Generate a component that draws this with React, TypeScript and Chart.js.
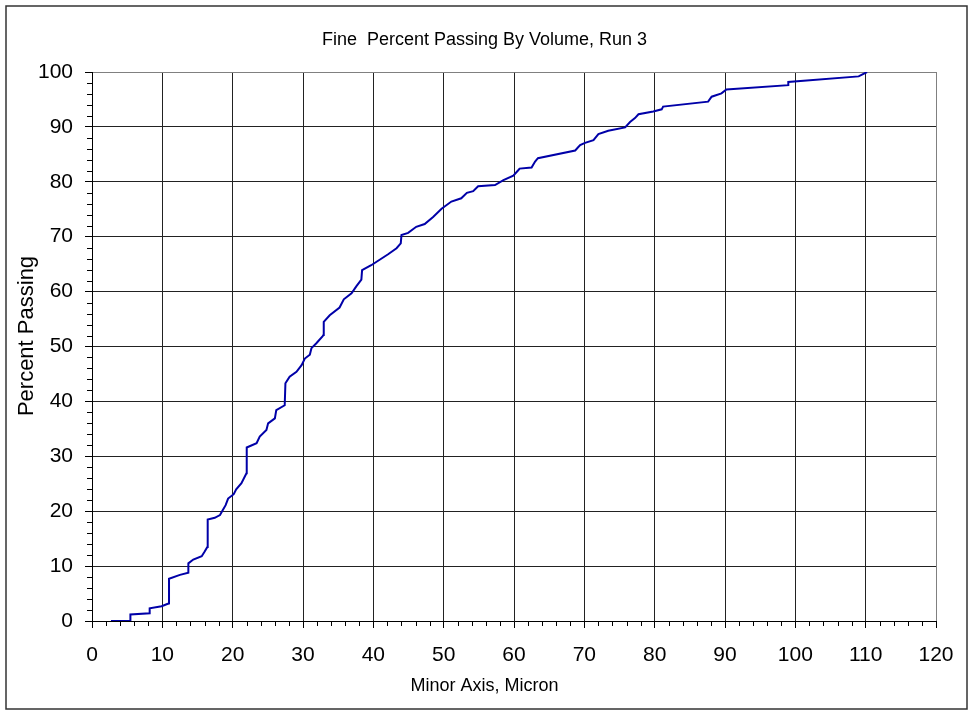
import React, { useEffect, useRef } from "react";
import { Chart, registerables } from "chart.js";

Chart.register(...registerables);

const chartTitle = "Fine  Percent Passing By Volume, Run 3";
const xAxisTitle = "Minor Axis, Micron";
const yAxisTitle = "Percent Passing";

const xTickMin = 0;
const xTickMax = 120;
const xTickStep = 10;
const yTickMin = 0;
const yTickMax = 100;
const yTickStep = 10;
const minorStep = 2;

const minorAxisMicron = [
  2.7, 5.46, 5.46, 8.2, 8.2, 9.9, 10.7, 10.95, 10.95, 12.5, 13.7, 13.7, 14.4, 15.6, 16.0, 16.4,
  16.45, 17.45, 18.2, 18.6, 19.0, 19.35, 20.15, 20.5, 21.25, 21.96, 22.0, 23.4, 23.85, 24.8,
  25.04, 26.0, 26.2, 27.4, 27.5, 28.1, 29.07, 29.8, 30.26, 30.97, 31.2, 31.9, 32.8, 32.9, 32.95,
  33.8, 35.2, 35.8, 36.9, 37.6, 38.3, 38.4, 39.7, 40.9, 42.1, 43.3, 43.9, 44.0, 44.95, 46.1,
  47.3, 48.5, 49.7, 51.1, 52.5, 53.3, 54.2, 54.9, 57.3, 58.5, 59.9, 60.6, 60.8, 62.5, 63.0,
  63.4, 68.7, 69.4, 70.1, 71.3, 72.0, 73.4, 75.8, 76.5, 77.2, 77.7, 79.8, 81.0, 81.2, 87.6,
  88.1, 89.5, 90.2, 99.0, 99.0, 109.0, 110.2,
];

const percentPassing = [
  0, 0, 1.2, 1.4, 2.3, 2.7, 3.1, 3.2, 7.7, 8.4, 8.8, 10.5, 11.2, 11.8, 12.6, 13.5,
  18.5, 18.8, 19.3, 20.2, 21.1, 22.3, 23.1, 24.0, 25.1, 26.9, 31.6, 32.4, 33.6, 34.8,
  36.0, 36.9, 38.4, 39.3, 43.3, 44.5, 45.4, 46.6, 47.8, 48.5, 49.7, 50.6, 51.9, 52.1, 54.5,
  55.7, 57.1, 58.6, 59.7, 61.0, 62.2, 63.9, 64.8, 65.8, 66.8, 67.9, 68.8, 70.3, 70.7, 71.8,
  72.3, 73.6, 75.1, 76.4, 77.0, 78.0, 78.3, 79.2, 79.4, 80.3, 81.1, 82.1, 82.4, 82.6, 83.7,
  84.3, 85.7, 86.7, 87.1, 87.6, 88.7, 89.3, 89.9, 90.9, 91.6, 92.3, 92.8, 93.2, 93.7, 94.6,
  95.5, 96.1, 96.8, 97.6, 98.2, 99.2, 100,
];

const FONT = "'Liberation Sans', Arial, sans-serif";

const frameAndMinorTicks = {
  id: "frameAndMinorTicks",
  afterDraw(chart: any) {
    const { ctx, chartArea, scales } = chart;
    ctx.save();
    // outer frame
    ctx.strokeStyle = "#333333";
    ctx.lineWidth = 1.5;
    ctx.strokeRect(6, 6, 961, 703);
    // minor ticks
    ctx.strokeStyle = "#000000";
    ctx.lineWidth = 1;
    ctx.beginPath();
    for (let v = yTickMin; v <= yTickMax; v += minorStep) {
      if (v % yTickStep === 0) continue;
      const y = Math.round(scales.y.getPixelForValue(v)) + 0.5;
      ctx.moveTo(chartArea.left - 5, y);
      ctx.lineTo(chartArea.left, y);
    }
    for (let v = xTickMin; v <= xTickMax; v += minorStep) {
      if (v % xTickStep === 0) continue;
      const x = Math.round(scales.x.getPixelForValue(v)) + 0.5;
      ctx.moveTo(x, chartArea.bottom);
      ctx.lineTo(x, chartArea.bottom + 5);
    }
    ctx.stroke();
    // y axis title
    ctx.translate(33, 336);
    ctx.rotate(-Math.PI / 2);
    ctx.fillStyle = "#000";
    ctx.font = `22px ${FONT}`;
    ctx.textAlign = "center";
    ctx.textBaseline = "alphabetic";
    ctx.fillText(yAxisTitle, 0, 0);
    ctx.restore();
  },
};

export default function App() {
  const ref = useRef<HTMLCanvasElement | null>(null);

  useEffect(() => {
    if (!ref.current) return;
    const data = minorAxisMicron.map((x, i) => ({ x, y: percentPassing[i] }));
    const chart = new Chart(ref.current, {
      type: "scatter",
      data: {
        datasets: [
          {
            data,
            showLine: true,
            borderColor: "#0000A8",
            backgroundColor: "#0000A8",
            borderWidth: 2,
            pointRadius: 0,
            tension: 0,
            fill: false,
          },
        ],
      },
      plugins: [frameAndMinorTicks],
      options: {
        animation: false,
        responsive: false,
        devicePixelRatio: 1,
        layout: { padding: 0 },
        plugins: {
          legend: { display: false },
          tooltip: { enabled: false },
          title: {
            display: true,
            text: chartTitle,
            color: "#000",
            font: { family: FONT, size: 18, weight: "normal" },
            padding: { top: 29.2, bottom: 21.2 },
          },
          subtitle: {
            display: true,
            position: "bottom",
            text: xAxisTitle,
            color: "#000",
            font: { family: FONT, size: 18, weight: "normal" },
            padding: { top: 0, bottom: 14.2 },
          },
        },
        scales: {
          x: {
            type: "linear",
            min: xTickMin,
            max: xTickMax,
            afterFit: (s: any) => {
              s.height = 54.2;
            },
            ticks: {
              stepSize: xTickStep,
              color: "#000",
              font: { family: FONT, size: 21 },
              padding: 15,
              maxRotation: 0,
              autoSkip: false,
            },
            grid: {
              color: (c: any) => (c.tick && c.tick.value === xTickMax ? "#808080" : "#222222"),
              lineWidth: 1,
              tickLength: 7,
              tickColor: "#000",
            },
            border: { display: true, color: "#000", width: 1 },
          },
          y: {
            type: "linear",
            min: yTickMin,
            max: yTickMax,
            afterFit: (s: any) => {
              s.width = 92;
            },
            ticks: {
              stepSize: yTickStep,
              color: "#000",
              font: { family: FONT, size: 21 },
              padding: 12,
              autoSkip: false,
            },
            grid: {
              color: (c: any) => (c.tick && c.tick.value === yTickMax ? "#808080" : "#222222"),
              lineWidth: 1,
              tickLength: 7,
              tickColor: "#000",
            },
            border: { display: true, color: "#000", width: 1 },
          },
          yRight: {
            type: "linear",
            position: "right",
            display: true,
            min: yTickMin,
            max: yTickMax,
            afterFit: (s: any) => {
              s.width = 33;
            },
            ticks: { display: false },
            grid: { display: false, drawOnChartArea: false, drawTicks: false },
            border: { display: false },
          },
        },
      },
    });
    return () => chart.destroy();
  }, []);

  return (
    <div style={{ position: "fixed", left: 0, top: 0, width: 969, height: 711, background: "#fff" }}>
      <canvas ref={ref} width={969} height={711} style={{ display: "block", width: 969, height: 711 }} />
    </div>
  );
}
